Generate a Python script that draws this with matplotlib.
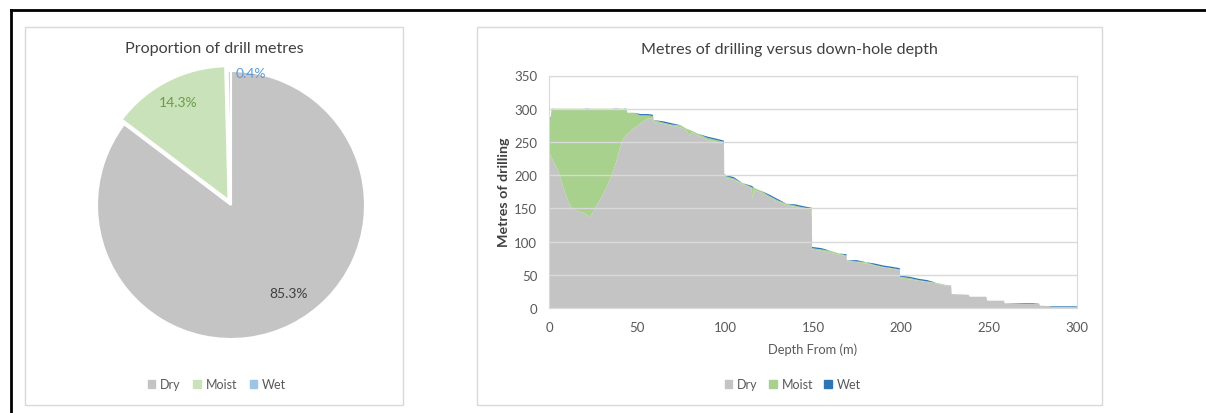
import matplotlib.pyplot as plt
from matplotlib.patches import Patch, Rectangle
from matplotlib.lines import Line2D

plt.rcParams['font.family'] = ['Lato', 'DejaVu Sans']

# pie data
pie_labels = ['Dry', 'Moist', 'Wet']
pie_values = [85.3, 14.3, 0.4]

# metres of drilling by down-hole depth
depth = [0, 1, 1.5, 3, 5, 7, 9, 11, 13, 15, 17, 20, 22, 23, 24, 26, 28, 30, 32, 34,
         36, 38, 40, 42, 44, 44.5, 48, 52, 56, 59, 59.5, 65, 70, 75, 78, 80, 81, 85,
         90, 95, 99.4, 99.6, 105, 110, 115, 115.7, 116.4, 120, 125, 130, 135, 140,
         145, 149.3, 149.5, 155, 160, 165, 169, 169.3, 175, 180, 185, 190, 195,
         199.3, 199.5, 205, 210, 215, 220, 225, 228.5, 228.8, 238.5, 239, 248.5,
         249, 258.5, 259, 270, 275, 278.5, 279, 284, 285, 300]
dry = [235, 228, 226, 218, 208, 192, 175, 160, 150, 147, 145, 143, 139, 136, 140, 149,
       158, 168, 178, 190, 202, 218, 238, 254, 261, 262, 270, 278, 285, 286, 280,
       277, 274, 272, 267, 259, 265, 259, 253, 250, 246, 196, 193, 186, 181, 164,
       178, 174, 167, 160, 155, 152, 149, 145, 88, 86, 83, 80, 78, 70, 69, 67, 64,
       61, 59, 57, 45, 43, 41, 39, 37, 34, 33, 21, 20, 17, 17, 11, 11, 7, 6.5, 6.5,
       7, 3.5, 3, 1.5, 1.5]
moist = [50, 58, 73, 82, 92, 108, 125, 140, 150, 153, 155, 157, 160, 164, 160, 151,
         142, 132, 122, 110, 98, 81, 62, 46, 38, 32, 24, 12, 5, 3, 3,
         2, 2, 3, 3, 9, 2, 3, 3, 3, 4, 3, 2, 2, 1, 17,
         3, 3, 2, 2, 2, 2, 2, 4, 2, 2, 3, 2, 1, 2, 1, 2, 1,
         1, 1, 1, 2, 2, 1, 1, 1, 1, 1, 0, 0, 0, 0, 0, 0, 0, 0, 0,
         0, 0, 0, 0, 0]
wet = [2, 1, 1, 0, 0, 0, 0, 0, 0, 0, 0, 0, 1, 0, 0, 0,
       0, 0, 0, 0, 0, 1, 0, 0, 1, 0, 0, 2, 2, 2, 0,
       2, 2, 0, 0, 0, 0, 0, 2, 2, 2, 2, 2, 0, 2, 2,
       0, 0, 2, 2, 0, 2, 2, 2, 2, 2, 0, 0, 2, 0, 2, 0, 2,
       2, 2, 2, 2, 2, 2, 2, 0, 0, 0, 0, 0, 0, 0, 0, 0, 0, 1, 1,
       0, 0, 0, 1, 1]

W, H = 1206, 414
fig = plt.figure(figsize=(W / 100, H / 100), dpi=100)

# outer frame (top and left edges only) and the two chart boxes
fig.add_artist(Line2D([11 / W, 1], [1 - 11 / H, 1 - 11 / H], color='black', lw=2))
fig.add_artist(Line2D([11 / W, 11 / W], [0, 1 - 11 / H], color='black', lw=2))
for x0, x1 in [(25, 403), (477, 1102)]:
    fig.add_artist(Rectangle((x0 / W, 1 - 406 / H), (x1 - x0) / W, 378 / H,
                             fill=False, edgecolor='#d9d9d9', lw=1))

title_col = '#404040'
text_col = '#595959'

# ---- pie ----
ax1 = fig.add_axes([97 / W, 1 - 340 / H, 268 / W, 268 / H])
wedges, _, autotexts = ax1.pie(pie_values, colors=['#c4c4c4', '#c9e2b9', '#bdd7ee'],
                               startangle=90, counterclock=False, explode=[0, 0.04, 0],
                               autopct='%1.1f%%', pctdistance=0.82,
                               wedgeprops=dict(edgecolor='white', linewidth=1.5),
                               textprops=dict(fontsize=10))
ax1.set_xlim(-1, 1)
ax1.set_ylim(-1, 1)
ax1.set_aspect('equal')
for t, c in zip(autotexts, ['#404040', '#6a9e45', '#5b9bd5']):
    t.set_color(c)
autotexts[0].set_position((0.43, -0.66))
autotexts[2].set_position((0.15, 0.985))

fig.text(214 / W, 1 - 49 / H, 'Proportion of drill metres', ha='center', va='center',
         fontsize=11.6, color=title_col)
fig.legend(handles=[Patch(color=c, label=l) for c, l in
                    zip(['#c4c4c4', '#c9e2b9', '#9dc3e6'], pie_labels)],
           loc='center', bbox_to_anchor=(217 / W, 1 - 385 / H), ncol=3, frameon=False,
           fontsize=9, handlelength=0.6, handleheight=0.6, handletextpad=0.4,
           columnspacing=1.0, labelcolor=text_col)

# ---- stacked area ----
ax2 = fig.add_axes([549 / W, 1 - 309 / H, 528 / W, 232.5 / H])
ax2.stackplot(depth, dry, moist, wet, colors=['#c4c4c4', '#a9d18e', '#2e75b6'],
              labels=['Dry', 'Moist', 'Wet'], lw=0)
ax2.set_xlim(0, 300)
ax2.set_ylim(0, 350)
ax2.set_xticks(range(0, 301, 50))
ax2.set_yticks(range(0, 351, 50))
ax2.grid(axis='y', color='#d9d9d9', lw=1)
ax2.set_axisbelow(False)
for s in ax2.spines.values():
    s.set_color('#d9d9d9')
ax2.tick_params(length=0, labelsize=9.5, colors=text_col)
ax2.tick_params(axis='x', pad=9.5)
ax2.tick_params(axis='y', pad=8.5)
ax2.set_xlabel('Depth From (m)', fontsize=9.3, color=text_col, labelpad=6.5)
ax2.set_ylabel('Metres of drilling', fontsize=10.3, color=title_col, fontweight='bold',
               labelpad=3)
fig.text(789 / W, 1 - 50 / H, 'Metres of drilling versus down-hole depth', ha='center',
         va='center', fontsize=11.6, color=title_col)
fig.legend(handles=[Patch(color=c, label=l) for c, l in
                    zip(['#c4c4c4', '#a9d18e', '#2e75b6'], ['Dry', 'Moist', 'Wet'])],
           loc='center', bbox_to_anchor=(793 / W, 1 - 385 / H), ncol=3, frameon=False,
           fontsize=9, handlelength=0.6, handleheight=0.6, handletextpad=0.4,
           columnspacing=0.9, labelcolor=text_col)

fig.savefig('out.png', dpi=100, facecolor='white')
